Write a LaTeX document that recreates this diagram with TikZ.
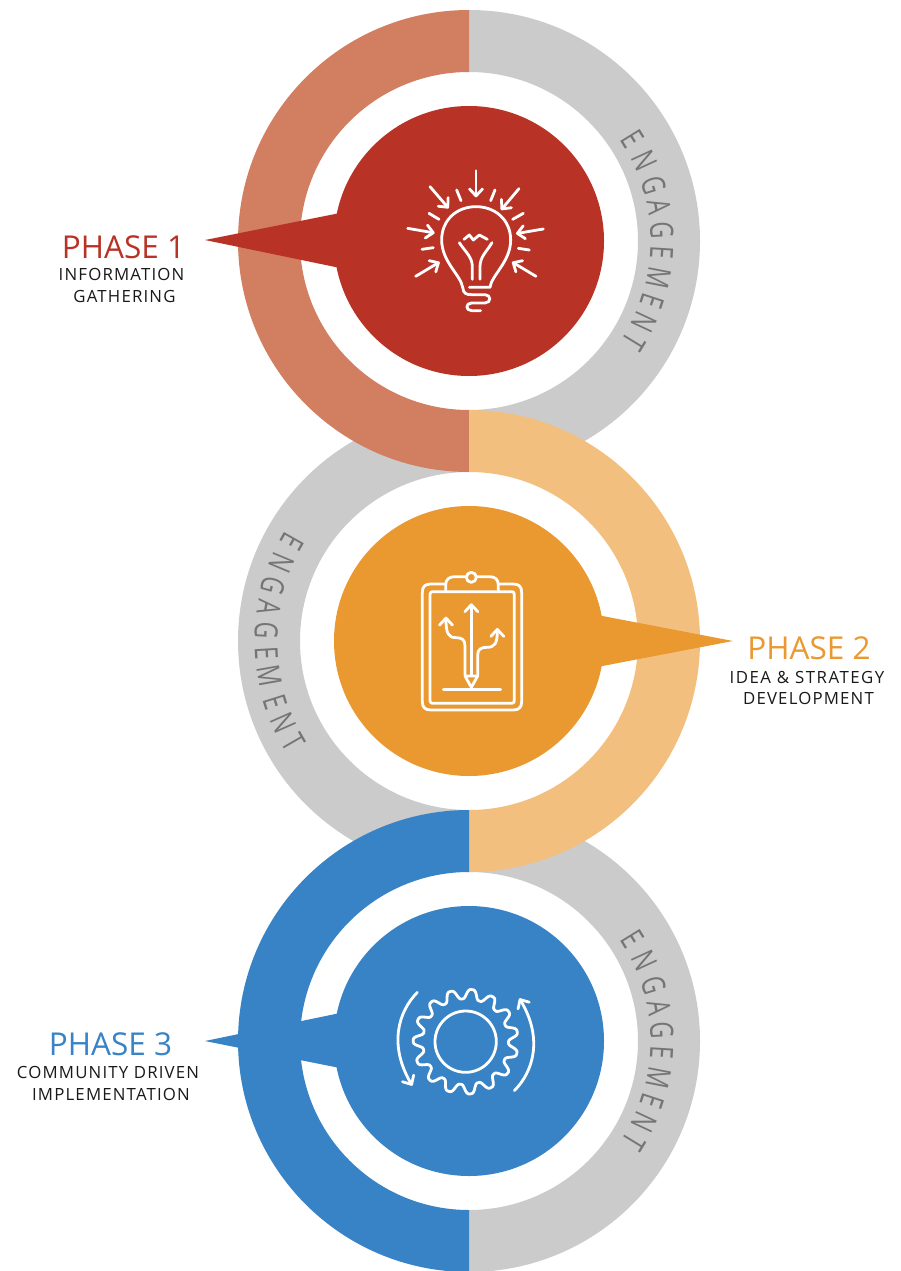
\documentclass[tikz,border=0pt]{standalone}
\usepackage{fontspec}
\usetikzlibrary{arrows.meta}
\setmainfont{Open Sans}
\newfontfamily\subfont[LetterSpace=7]{Open Sans}
\newfontfamily\subwidefont[LetterSpace=9]{Open Sans}
\newfontfamily\ringfont[FakeStretch=0.72]{Open Sans}
\definecolor{cred}{HTML}{B93226}
\definecolor{csalmon}{HTML}{D27E60}
\definecolor{corange}{HTML}{EA9830}
\definecolor{clight}{HTML}{F3BF7F}
\definecolor{cblue}{HTML}{3783C5}
\definecolor{cgray}{HTML}{CBCBCB}
\definecolor{ctext}{HTML}{757575}
\tikzset{
  icon/.style={draw=white,line width=2.8pt,line cap=round,line join=round,fill=none},
  arr/.style={icon,-{Straight Barb[length=7pt,width=13pt,round]}},
  phasetitle/.style={font=\fontsize{31.5}{31.5}\selectfont,inner sep=0pt,anchor=base},
  phasesub/.style={font=\fontsize{16.8}{16.8}\subfont,text=black!90,inner sep=0pt,anchor=base},
  ringletter/.style={font=\fontsize{32}{32}\ringfont,text=ctext,inner sep=0pt},
  declare function={gearr(\t)=143+16*(cos(15*(\t-83))-0.1*cos(45*(\t-83)));}
}
\newcommand{\halfright}[2]{\fill[#2] (469,#1+231) arc[start angle=90,end angle=-90,radius=231] -- (469,#1-169) arc[start angle=-90,end angle=90,radius=169] -- cycle;}
\newcommand{\halfleft}[2]{\fill[#2] (469,#1+231) arc[start angle=90,end angle=270,radius=231] -- (469,#1-169) arc[start angle=270,end angle=90,radius=169] -- cycle;}
\begin{document}
\begin{tikzpicture}[x=1pt,y=-1pt]
\useasboundingbox (0,0) rectangle (900,1271);
\fill[white] (0,0) rectangle (900,1271);
% rings
\halfright{241}{cgray}
\halfleft{641}{cgray}
\halfright{1041}{cgray}
\halfleft{241}{csalmon}
\halfright{641}{clight}
\halfleft{1041}{cblue}
% pointers and discs
\fill[cred] (205,240) -- (345,212) -- (345,269) -- cycle;
\fill[cred] (469,241) circle[radius=135];
\fill[corange] (733,641) -- (592,614) -- (592,668) -- cycle;
\fill[corange] (469,641) circle[radius=135];
\fill[cblue] (205,1041) -- (345,1012) -- (345,1069) -- cycle;
\fill[cblue] (469,1041) circle[radius=135];
% ring lettering
\foreach \cy in {241,1041}{
  \foreach \l/\a in {E/31.8,N/24.7,G/16.8,A/10.1,G/3.2,E/-3.5,M/-11,E/-18.3,N/-25,T/-31.5}{
    \node[ringletter,rotate=\a-90] at ({469+193*cos(\a)},{\cy-193*sin(\a)}) {\l};
  }
}
\foreach \l/\a in {E/150.6,N/157.3,G/164.3,A/170.4,G/176.9,E/183.4,M/190,E/197.5,N/203.8,T/210}{
  \node[ringletter,rotate=\a+90] at ({469+203*cos(\a)},{641-203*sin(\a)}) {\l};
}
% labels
\node[phasetitle,text=cred] (p1) at (123.5,258) {PHASE 1};
\node[phasesub] (p1a) at (121.5,280) {INFORMATION};
\node[phasesub] (p1b) at (124.5,302) {GATHERING};
\node[phasetitle,text=corange] (p2) at (809,659) {PHASE 2};
\node[phasesub,font=\fontsize{16.8}{16.8}\subwidefont] (p2a) at (807,683) {IDEA \& STRATEGY};
\node[phasesub] (p2b) at (808.5,704) {DEVELOPMENT};
\node[phasetitle,text=cblue] (p3) at (110.5,1055) {PHASE 3};
\node[phasesub] (p3a) at (108,1078) {COMMUNITY DRIVEN};
\node[phasesub] (p3b) at (111,1100) {IMPLEMENTATION};
% bulb icon
\begin{scope}[shift={(390,150)},x=.3333pt,y=-.3333pt]
\draw[icon] (218,412) .. controls (212,375) and (155,335) .. (155,270)
  .. controls (155,210) and (200,170) .. (258,170)
  .. controls (316,170) and (362,210) .. (362,270)
  .. controls (362,335) and (305,375) .. (300,412) -- (238,412);
\draw[icon] (218,412) .. controls (220,432) and (230,434) .. (245,434) -- (285,434)
  .. controls (304,434) and (304,459) .. (285,459) -- (245,459)
  .. controls (226,459) and (226,482) .. (245,482) -- (272,482);
\draw[icon] (222,268) -- (238,255) -- (250,270) -- (268,255) -- (292,268);
\draw[icon] (208,278) .. controls (225,305) and (247,320) .. (247,350) -- (247,388);
\draw[icon] (306,278) .. controls (290,305) and (270,320) .. (270,350) -- (270,388);
\draw[arr] (258,62) -- (258,142);
\draw[arr] (120,110) -- (176,175);
\draw[arr] (387,116) -- (333,180);
\draw[arr] (53,235) -- (134,249);
\draw[arr] (460,237) -- (378,251);
\draw[arr] (77,379) -- (149,336);
\draw[arr] (438,379) -- (366,336);
\draw[icon] (200,120) -- (213,152);
\draw[icon] (315,120) -- (302,152);
\draw[icon] (117,190) -- (147,208);
\draw[icon] (400,190) -- (368,208);
\draw[icon] (96,298) -- (130,293);
\draw[icon] (418,300) -- (385,295);
\end{scope}
% clipboard icon
\begin{scope}[shift={(400,560)},x=.3333pt,y=-.3333pt]
\draw[icon] (137,72) -- (92,72) .. controls (75,72) and (67,80) .. (67,97) -- (67,425)
  .. controls (67,442) and (75,450) .. (92,450) -- (340,450)
  .. controls (357,450) and (365,442) .. (365,425) -- (365,97)
  .. controls (365,80) and (357,72) .. (340,72) -- (295,72);
\draw[icon,rounded corners=2.5pt] (90,95) rectangle (343,430);
\draw[icon] (137,95) -- (137,75) .. controls (137,58) and (148,50) .. (165,50) -- (198,50);
\draw[icon] (230,50) -- (268,50) .. controls (285,50) and (295,58) .. (295,75) -- (295,95);
\draw[icon] (214,52) circle[radius=15];
\draw[arr] (214,345) -- (214,130);
\draw[arr] (195,345) -- (195,258) .. controls (195,238) and (185,233) .. (168,233)
  .. controls (145,233) and (138,220) .. (138,170);
\draw[arr] (233,345) -- (233,285) .. controls (233,268) and (243,262) .. (260,262)
  .. controls (285,262) and (292,250) .. (292,204);
\draw[icon] (195,348) -- (233,348) -- (214,382) -- cycle;
\draw[icon] (130,388) -- (302,388);
\end{scope}
% gear icon
\begin{scope}[shift={(380,970)},x=.3333pt,y=-.3333pt]
\draw[icon] (257,215) circle[radius=92];
\draw[icon] plot[domain=0:360,samples=361,smooth] ({257+gearr(\x)*cos(\x)},{215-gearr(\x)*sin(\x)}) -- cycle;
\draw[arr] (112,67) .. controls (55,125) and (25,225) .. (97,347);
\draw[arr] (403,362) .. controls (460,305) and (490,205) .. (418,85);
\end{scope}
\end{tikzpicture}
\end{document}
